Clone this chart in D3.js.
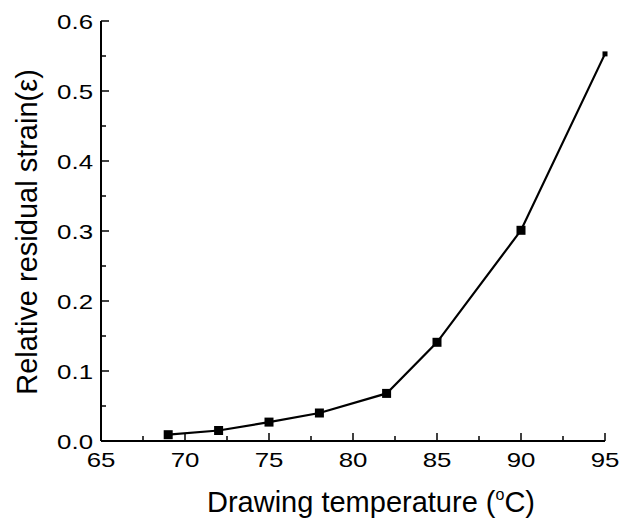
<!DOCTYPE html>
<html lang="en">
<head>
<meta charset="UTF-8">
<title>Relative residual strain</title>
<style>
  body { margin: 0; background: #fff; }
  text { font-family: "Liberation Sans", Arial, sans-serif; fill: #000; }
</style>
</head>
<body>
<script src="https://d3js.org/d3.v7.min.js"></script>
<script>
  // values
  const temps = [69, 72, 75, 78, 82, 85, 90, 95];
  const strain = [0.009, 0.015, 0.027, 0.040, 0.068, 0.141, 0.301, 0.553];
  const xTicks = [65, 70, 75, 80, 85, 90, 95];
  const yTicks = [0.0, 0.1, 0.2, 0.3, 0.4, 0.5, 0.6];

  const w = 633, h = 518;
  const svg = d3.select("body").append("svg")
    .attr("width", w)
    .attr("height", h);

  const x = d3.scaleLinear().domain([65, 95]).range([101, 605]);
  const y = d3.scaleLinear().domain([0, 0.6]).range([441, 21]);
  const stretch = 1.23; // tick labels look horizontally stretched

  // x axis, ticks pointing inward
  const xAxis = svg.append("g").attr("transform", `translate(0,${y(0)})`);
  xAxis.append("line").attr("x1", x(65)).attr("x2", x(95)).attr("stroke", "#000").attr("stroke-width", 2);
  xAxis.selectAll(".minor").data(d3.range(65, 95.1, 2.5)).enter().append("line")
    .attr("x1", d => x(d)).attr("x2", d => x(d))
    .attr("y1", 0).attr("y2", d => d % 5 === 0 ? -8 : -5)
    .attr("stroke", "#000").attr("stroke-width", 1.5);
  xAxis.selectAll("text").data(xTicks).enter().append("text")
    .attr("transform", d => `translate(${x(d)},26) scale(${stretch},1)`)
    .attr("text-anchor", "middle")
    .style("font-size", "21px")
    .text(d => d);

  // y axis
  const yAxis = svg.append("g").attr("transform", `translate(${x(65)},0)`);
  yAxis.append("line").attr("y1", y(0)).attr("y2", y(0.6)).attr("stroke", "#000").attr("stroke-width", 2);
  yAxis.selectAll(".tk").data(d3.range(0, 13)).enter().append("line")
    .attr("y1", d => y(d * 0.05)).attr("y2", d => y(d * 0.05))
    .attr("x1", 0).attr("x2", d => d % 2 === 0 ? 8 : 5)
    .attr("stroke", "#000").attr("stroke-width", 1.5);
  yAxis.selectAll("text").data(yTicks).enter().append("text")
    .attr("transform", d => `translate(-8,${y(d) + 7.5}) scale(${stretch},1)`)
    .attr("text-anchor", "end")
    .style("font-size", "21px")
    .text(d => d.toFixed(1));

  // line + markers
  const pts = temps.map((t, i) => [t, strain[i]]);
  svg.append("path").datum(pts)
    .attr("fill", "none").attr("stroke", "#000").attr("stroke-width", 2.2)
    .attr("d", d3.line().x(d => x(d[0])).y(d => y(d[1])));
  svg.selectAll(".pt").data(pts).enter().append("rect")
    .attr("x", (d, i) => x(d[0]) - (i === pts.length - 1 ? 2.5 : 4.5))
    .attr("y", (d, i) => y(d[1]) - (i === pts.length - 1 ? 2.5 : 4.5))
    .attr("width", (d, i) => i === pts.length - 1 ? 5 : 9)
    .attr("height", (d, i) => i === pts.length - 1 ? 5 : 9)
    .attr("fill", "#000");

  // axis titles
  const xt = svg.append("text")
    .attr("x", 371).attr("y", 512)
    .attr("text-anchor", "middle")
    .style("font-size", "29px");
  xt.append("tspan").text("Drawing temperature (");
  xt.append("tspan").attr("dy", -12).style("font-size", "16px").text("o");
  xt.append("tspan").attr("dy", 12).text("C)");

  svg.append("text")
    .attr("transform", "translate(37,232) rotate(-90)")
    .attr("text-anchor", "middle")
    .style("font-size", "29px")
    .text("Relative residual strain(\u03b5)");
</script>
</body>
</html>
